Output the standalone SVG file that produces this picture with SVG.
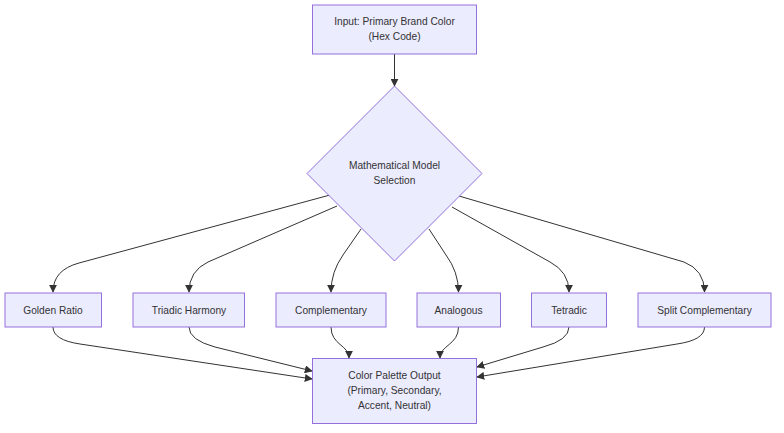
<svg xmlns="http://www.w3.org/2000/svg" width="784" height="433" viewBox="0 0 784 433">
<style>
.node rect,.node polygon{fill:#ECECFF;stroke:#9370DB;stroke-width:1}
.node text{font-family:"Trebuchet MS","Liberation Sans",Arial,sans-serif;font-size:10.2px;fill:#333;text-anchor:middle}
.edges path{fill:none;stroke:#333;stroke-width:1;marker-end:url(#arr)}
</style>
<defs>
<marker id="arr" viewBox="0 0 10 10" refX="9" refY="5" markerWidth="8" markerHeight="8" markerUnits="userSpaceOnUse" orient="auto">
<path d="M0,0 L10,5 L0,10 z" fill="#333"/>
</marker>
</defs>
<rect width="784" height="433" fill="#fff"/>
<g class="edges">
<path d="M394.5,54 L394.5,86"/>
<path d="M330,195 L79,263 Q53,270 53,292"/>
<path d="M337,206 L208,262 Q189,271 189,292"/>
<path d="M361,229 L343,255 Q331,272 331,292"/>
<path d="M429,229 L446,255 Q458.5,272 458.5,292"/>
<path d="M452,207 L550,262 Q569,272 569,292"/>
<path d="M459,196 L684,262 Q704.5,270 704.5,292"/>
<path d="M53,327 Q53,340 80,344 L312,379"/>
<path d="M189,327 Q189,340 215,347 L312,371"/>
<path d="M331,327 C331,345 349,345 349,358"/>
<path d="M458.5,327 C458.5,345 440,345 440,358"/>
<path d="M569,327 Q569,340 543,347 L477,367"/>
<path d="M704.5,327 Q704.5,340 677,344 L477,377"/>
</g>
<g id="input" class="node">
<rect x="312.5" y="5" width="164" height="49"/>
<text x="394.5" y="25">Input: Primary Brand Color</text>
<text x="394.5" y="40">(Hex Code)</text>
</g>
<g id="model" class="node">
<polygon points="394.5,86 482,173.5 394.5,261 307,173.5"/>
<text x="394.5" y="168.5">Mathematical Model</text>
<text x="394.5" y="183.5">Selection</text>
</g>
<g id="golden" class="node">
<rect x="5" y="293" width="96.5" height="34"/>
<text x="53" y="313.5">Golden Ratio</text>
</g>
<g id="triadic" class="node">
<rect x="133" y="293" width="111.5" height="34"/>
<text x="189" y="313.5">Triadic Harmony</text>
</g>
<g id="complementary" class="node">
<rect x="276" y="293" width="110" height="34"/>
<text x="331" y="313.5">Complementary</text>
</g>
<g id="analogous" class="node">
<rect x="417" y="293" width="83.5" height="34"/>
<text x="458.5" y="313.5">Analogous</text>
</g>
<g id="tetradic" class="node">
<rect x="531.5" y="293" width="75" height="34"/>
<text x="569" y="313.5">Tetradic</text>
</g>
<g id="split" class="node">
<rect x="638" y="293" width="133" height="34"/>
<text x="704.5" y="313.5">Split Complementary</text>
</g>
<g id="output" class="node">
<rect x="312.5" y="358.5" width="164" height="65"/>
<text x="394.5" y="379">Color Palette Output</text>
<text x="394.5" y="394">(Primary, Secondary,</text>
<text x="394.5" y="409">Accent, Neutral)</text>
</g>
</svg>
